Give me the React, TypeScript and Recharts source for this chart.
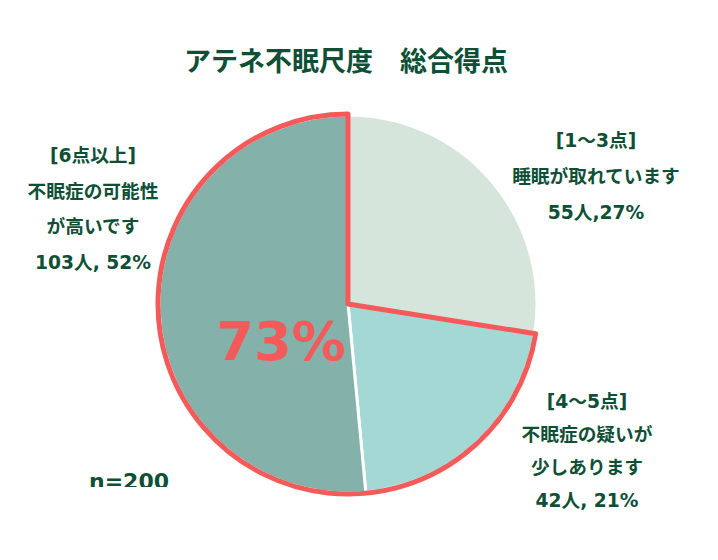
import * as React from "react";
import { Cell, Pie, PieChart } from "recharts";

const categories = ["[1～3点]", "[4～5点]", "[6点以上]"];
const counts = [55, 42, 103];
const sliceColors = ["#d5e5dc", "#a3d8d4", "#84b1a9"];
const highlightValues = [55, 145];
const highlightLabel = "73%";
const totalLabel = "n=200";

const labelLines: string[][] = [
    ["[1～3点]", "睡眠が取れています", "55人,27%"],
    ["[4～5点]", "不眠症の疑いが", "少しあります", "42人, 21%"],
    ["[6点以上]", "不眠症の可能性", "が高いです", "103人, 52%"],
];

const pieData = categories.map((name, i) => ({ name, value: counts[i] }));
const highlightData = highlightValues.map((value, i) => ({ name: `h${i}`, value }));

const GREEN = "#0e4f36";
const RED = "#f45a5a";
const FONT = "'DejaVu Sans', 'Noto Sans CJK JP', sans-serif";

// label block anchors (center x, first baseline y, line gap)
const labelPos = [
    { x: 596, y: 147, gap: 36 },
    { x: 587, y: 408, gap: 33 },
    { x: 93, y: 162, gap: 35.7 },
];

const Labels = () => (
    <svg width={718} height={560}
        style={{ position: "absolute", left: 0, top: 0, pointerEvents: "none" }}>
        <defs>
            <clipPath id="nclip">
                <rect x={0} y={0} width={718} height={487} />
            </clipPath>
        </defs>
        <g fontFamily={FONT} fontWeight="bold" fill={GREEN}>
            <text x={346} y={71} textAnchor="middle" fontSize={27}>
                アテネ不眠尺度　総合得点
            </text>
            {labelLines.map((lines, i) =>
                lines.map((line, j) => (
                    <text key={`${i}-${j}`}
                        x={labelPos[i].x}
                        y={labelPos[i].y + j * labelPos[i].gap}
                        textAnchor="middle"
                        fontSize={18.7}>
                        {line}
                    </text>
                ))
            )}
            <text x={89} y={489} fontSize={22} clipPath="url(#nclip)">{totalLabel}</text>
            <text x={281} y={360} textAnchor="middle" fontSize={54} fill={RED}>{highlightLabel}</text>
        </g>
    </svg>
);

export default function App() {
    return (
        <div style={{ position: "absolute", left: 0, top: 0, width: 718, height: 560, background: "#fff" }}>
            <PieChart width={718} height={560} margin={{ top: 0, right: 0, bottom: 0, left: 0 }}>
                <Pie data={pieData}
                    dataKey="value"
                    cx={348}
                    cy={304}
                    outerRadius={189}
                    startAngle={90}
                    endAngle={-270}
                    stroke="#ffffff"
                    strokeWidth={3}
                    isAnimationActive={false}>
                    {pieData.map((entry, index) => (
                        <Cell key={`slice-${index}`} fill={sliceColors[index]} />
                    ))}
                </Pie>
                <Pie data={highlightData}
                    dataKey="value"
                    cx={348}
                    cy={304}
                    outerRadius={190}
                    startAngle={90}
                    endAngle={-270}
                    isAnimationActive={false}>
                    {highlightData.map((entry, index) => (
                        <Cell key={`hl-${index}`}
                            fill="none"
                            stroke={index === 1 ? RED : "none"}
                            strokeWidth={index === 1 ? 5 : 0}
                            strokeLinejoin="round" />
                    ))}
                </Pie>
            </PieChart>
            <Labels />
        </div>
    );
}
